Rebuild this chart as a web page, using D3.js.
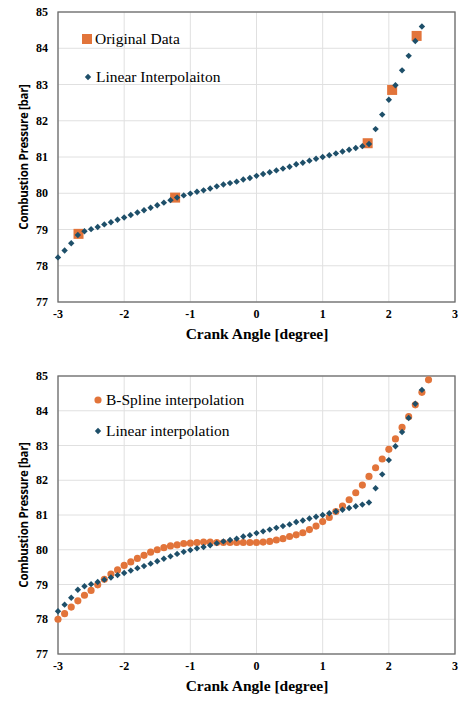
<!DOCTYPE html>
<html>
<head>
<meta charset="utf-8">
<script src="https://cdn.jsdelivr.net/npm/d3@7"></script>
<style>
  body { margin: 0; background: #fff; }
  text { fill: #000; }
</style>
</head>
<body>
<svg id="chart" width="464" height="708"></svg>
<script>
// crank angle steps
const linX = [-3.0, -2.9, -2.8, -2.7, -2.6, -2.5, -2.4, -2.3, -2.2, -2.1, -2.0, -1.9, -1.8, -1.7, -1.6, -1.5, -1.4, -1.3, -1.2, -1.1, -1.0, -0.9, -0.8, -0.7, -0.6, -0.5, -0.4, -0.3, -0.2, -0.1, 0.0, 0.1, 0.2, 0.3, 0.4, 0.5, 0.6, 0.7, 0.8, 0.9, 1.0, 1.1, 1.2, 1.3, 1.4, 1.5, 1.6, 1.7, 1.8, 1.9, 2.0, 2.1, 2.2, 2.3, 2.4, 2.5];
const linY = [78.23, 78.42, 78.62, 78.85, 78.95, 79.01, 79.07, 79.14, 79.20, 79.27, 79.33, 79.40, 79.47, 79.53, 79.60, 79.67, 79.74, 79.81, 79.88, 79.94, 79.99, 80.04, 80.08, 80.13, 80.19, 80.24, 80.28, 80.32, 80.38, 80.42, 80.48, 80.53, 80.58, 80.63, 80.68, 80.73, 80.80, 80.84, 80.90, 80.95, 81.00, 81.05, 81.10, 81.15, 81.20, 81.25, 81.30, 81.36, 81.77, 82.17, 82.58, 82.98, 83.39, 83.79, 84.20, 84.60];
const origX = [-2.69, -1.23, 1.68, 2.05, 2.42];
const origY = [78.88, 79.88, 81.38, 82.85, 84.34];
const splX = [-3.0, -2.9, -2.8, -2.7, -2.6, -2.5, -2.4, -2.3, -2.2, -2.1, -2.0, -1.9, -1.8, -1.7, -1.6, -1.5, -1.4, -1.3, -1.2, -1.1, -1.0, -0.9, -0.8, -0.7, -0.6, -0.5, -0.4, -0.3, -0.2, -0.1, 0.0, 0.1, 0.2, 0.3, 0.4, 0.5, 0.6, 0.7, 0.8, 0.9, 1.0, 1.1, 1.2, 1.3, 1.4, 1.5, 1.6, 1.7, 1.8, 1.9, 2.0, 2.1, 2.2, 2.3, 2.4, 2.5, 2.6];
const splY = [78.00, 78.16, 78.35, 78.53, 78.69, 78.83, 78.99, 79.15, 79.30, 79.42, 79.55, 79.65, 79.75, 79.84, 79.93, 80.00, 80.06, 80.11, 80.14, 80.18, 80.19, 80.21, 80.22, 80.22, 80.21, 80.21, 80.21, 80.21, 80.21, 80.21, 80.21, 80.22, 80.24, 80.28, 80.32, 80.38, 80.43, 80.49, 80.58, 80.68, 80.81, 80.93, 81.10, 81.26, 81.44, 81.64, 81.86, 82.11, 82.36, 82.61, 82.89, 83.19, 83.52, 83.83, 84.17, 84.53, 84.89];
const xTicks = [-3, -2, -1, 0, 1, 2, 3];
const yTicks = [77, 78, 79, 80, 81, 82, 83, 84, 85];

const orange = "#E2743A", blue = "#1E4F69";
const svg = d3.select("#chart");

function panel(top, bottom, legend, series) {
  const x = d3.scaleLinear().domain([-3, 3]).range([58, 455]);
  const y = d3.scaleLinear().domain([77, 85]).range([bottom, top]);
  const g = svg.append("g");

  // grid
  g.selectAll(".gx").data(xTicks).join("line")
    .attr("x1", d => x(d)).attr("x2", d => x(d))
    .attr("y1", top).attr("y2", bottom).attr("stroke", "#e0e0e0");
  g.selectAll(".gy").data(yTicks).join("line")
    .attr("x1", 58).attr("x2", 455)
    .attr("y1", d => y(d)).attr("y2", d => y(d)).attr("stroke", "#e0e0e0");
  g.append("rect").attr("x", 58).attr("y", top).attr("width", 397).attr("height", bottom - top)
    .attr("fill", "none").attr("stroke", "#6b6b6b").attr("stroke-width", 1.3);

  // tick labels
  g.selectAll(".tx").data(xTicks).join("text")
    .attr("x", d => x(d)).attr("y", bottom + 16).attr("text-anchor", "middle")
    .attr("font-family", "Liberation Serif").attr("font-weight", "bold").attr("font-size", 12)
    .text(d => d);
  g.selectAll(".ty").data(yTicks).join("text")
    .attr("x", 48).attr("y", d => y(d) + 4).attr("text-anchor", "end")
    .attr("font-family", "Liberation Serif").attr("font-weight", "bold").attr("font-size", 12)
    .text(d => d);

  // axis titles
  g.append("text").attr("x", 257).attr("y", bottom + 37).attr("text-anchor", "middle")
    .attr("font-family", "Liberation Serif").attr("font-weight", "bold").attr("font-size", 15.5)
    .text("Crank Angle [degree]");
  const cy = (top + bottom) / 2;
  g.append("text").attr("transform", `translate(28,${cy}) rotate(-90)`).attr("text-anchor", "middle")
    .attr("font-family", "Open Sans").attr("font-weight", "bold").attr("font-size", 11.5)
    .attr("letter-spacing", -0.3)
    .text("Combustion Pressure [bar]");

  // series
  series.forEach(s => {
    const pts = s.xs.map((v, i) => [v, s.ys[i]]);
    if (s.shape === "square") {
      g.selectAll(null).data(pts).join("rect")
        .attr("x", d => x(d[0]) - 5).attr("y", d => y(d[1]) - 5)
        .attr("width", 10).attr("height", 10).attr("fill", s.color);
    } else {
      const sym = s.shape === "circle" ? d3.symbolCircle : d3.symbolDiamond2;
      const size = s.shape === "circle" ? 40 : 26;
      g.selectAll(null).data(pts).join("path")
        .attr("transform", d => `translate(${x(d[0])},${y(d[1])})`)
        .attr("d", d3.symbol(sym, size)).attr("fill", s.color);
    }
  });

  // legend
  legend.forEach(l => {
    if (l.shape === "square") {
      g.append("rect").attr("x", l.x - 5).attr("y", l.y - 5).attr("width", 10).attr("height", 10).attr("fill", l.color);
    } else {
      g.append("path").attr("transform", `translate(${l.x},${l.y})`)
        .attr("d", d3.symbol(l.shape === "circle" ? d3.symbolCircle : d3.symbolDiamond2, l.shape === "circle" ? 40 : 26))
        .attr("fill", l.color);
    }
    g.append("text").attr("x", l.x + 8).attr("y", l.y + 5)
      .attr("font-family", "Liberation Serif").attr("font-size", 15.5).text(l.label);
  });
}

// top: original data + linear interpolation
panel(12, 302,
  [{ x: 87, y: 39, shape: "square", color: orange, label: "Original Data" },
   { x: 88, y: 77, shape: "diamond", color: blue, label: "Linear Interpolaiton" }],
  [{ xs: origX, ys: origY, shape: "square", color: orange },
   { xs: linX, ys: linY, shape: "diamond", color: blue }]);

// bottom: b-spline vs linear
panel(376, 654,
  [{ x: 98, y: 400, shape: "circle", color: orange, label: "B-Spline interpolation" },
   { x: 98, y: 431, shape: "diamond", color: blue, label: "Linear interpolation" }],
  [{ xs: splX, ys: splY, shape: "circle", color: orange },
   { xs: linX, ys: linY, shape: "diamond", color: blue }]);
</script>
</body>
</html>
